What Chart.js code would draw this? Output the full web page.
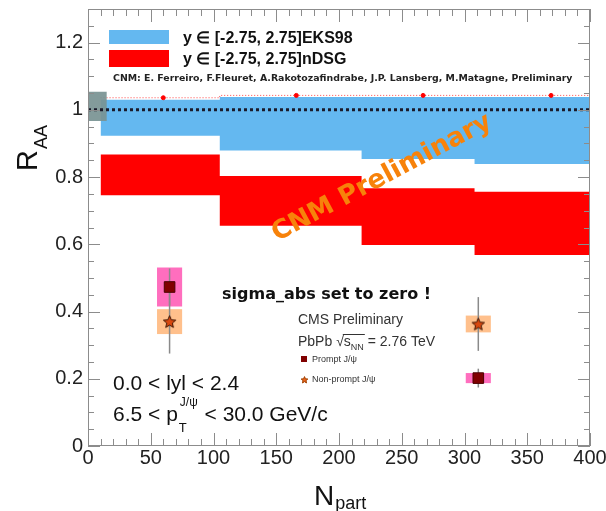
<!DOCTYPE html>
<html>
<head>
<meta charset="utf-8">
<script src="https://cdn.jsdelivr.net/npm/chart.js@4.4.1/dist/chart.umd.min.js"></script>
<style>
  html, body { margin: 0; padding: 0; background: #fff; }
</style>
</head>
<body>
<canvas id="chart" width="606" height="511"></canvas>
<script>
/* N_part bin edges of the CNM bands */
const binEdges = [10, 105, 218, 308, 400];

/* EKS98 band (upper / lower edge per bin) */
const eksHigh = [1.030, 1.038, 1.038, 1.038];
const eksLow  = [0.923, 0.879, 0.854, 0.839];

/* nDSG band */
const ndsgHigh = [0.867, 0.803, 0.767, 0.756];
const ndsgLow  = [0.746, 0.655, 0.598, 0.568];
const ndsgTop  = [1.036, 1.043, 1.043, 1.043];
const ndsgTopMarks = [60, 166, 267, 369];

/* CMS J/psi points */
const nPart = [65, 311];
const promptRaa  = [0.473, 0.202];
const promptStat = [0.055, 0.028];
const promptSyst = [0.058, 0.015];
const nonPromptRaa  = [0.370, 0.363];
const nonPromptStat = [0.095, 0.080];
const nonPromptSyst = [0.037, 0.025];
const systHalfWidth = 10;

/* global uncertainty box at unity */
const globalBoxX = [0, 15];
const globalBoxY = [0.967, 1.054];

/* axes */
const xTicks = [0, 50, 100, 150, 200, 250, 300, 350, 400];
const yTicks = [0, 0.2, 0.4, 0.6, 0.8, 1.0, 1.2];

const BLUE = "#64b8f0";
const RED = "#ff0000";
const PINK = "#ff6ebe";
const PEACH = "#ffc08c";
const FONT = '"Liberation Sans", Arial, sans-serif';

function steps(vals) {
  return binEdges.map((x, i) => ({ x, y: vals[Math.min(i, vals.length - 1)] }));
}

function starImage(size, fill, stroke) {
  const c = document.createElement("canvas");
  c.width = c.height = size;
  const g = c.getContext("2d");
  const r = size / 2 - 1, cx = size / 2, cy = size / 2 + 0.6;
  g.beginPath();
  for (let i = 0; i < 10; i++) {
    const a = -Math.PI / 2 + i * Math.PI / 5;
    const rr = i % 2 ? r * 0.45 : r;
    g.lineTo(cx + rr * Math.cos(a), cy + rr * Math.sin(a));
  }
  g.closePath();
  g.fillStyle = fill;
  g.fill();
  g.lineWidth = 1;
  g.strokeStyle = stroke;
  g.stroke();
  return c;
}

const bigStar = starImage(15, "#d9480f", "#3a1200");
const smallStar = starImage(9, "#e8641c", "#a04000");

/* systematic boxes + stat error bars, drawn under the markers */
const errorPlugin = {
  id: "errors",
  beforeDatasetDraw(chart, args) {
    if (args.index !== 1) return;
    const { ctx, scales: { x, y } } = chart;
    ctx.save();
    function box(n, v, s, color) {
      const x0 = x.getPixelForValue(n - systHalfWidth), x1 = x.getPixelForValue(n + systHalfWidth);
      const y0 = y.getPixelForValue(v + s), y1 = y.getPixelForValue(v - s);
      ctx.fillStyle = color;
      ctx.fillRect(x0, y0, x1 - x0, y1 - y0);
    }
    function bar(n, v, e) {
      const px = x.getPixelForValue(n);
      ctx.beginPath();
      ctx.moveTo(px, y.getPixelForValue(v + e));
      ctx.lineTo(px, y.getPixelForValue(v - e));
      ctx.strokeStyle = "#8a8a8a";
      ctx.lineWidth = 1.5;
      ctx.stroke();
    }
    nPart.forEach((n, i) => {
      box(n, promptRaa[i], promptSyst[i], PINK);
      box(n, nonPromptRaa[i], nonPromptSyst[i], PEACH);
    });
    nPart.forEach((n, i) => {
      bar(n, promptRaa[i], promptStat[i]);
      bar(n, nonPromptRaa[i], nonPromptStat[i]);
    });
    ctx.restore();
  }
};

function text(ctx, s, x, y, font, color, align) {
  ctx.font = font;
  ctx.fillStyle = color || "#111";
  ctx.textAlign = align || "left";
  ctx.textBaseline = "alphabetic";
  ctx.fillText(s, x, y);
  return ctx.measureText(s).width;
}

/* frame, inward ticks on all sides, and the annotations */
const decorPlugin = {
  id: "decor",
  afterDraw(chart) {
    const { ctx, chartArea: a, scales: { x, y } } = chart;
    ctx.save();

    ctx.strokeStyle = "#8c8c8c";
    ctx.lineWidth = 1;
    ctx.strokeRect(a.left + 0.5, a.top + 0.5, a.right - a.left - 1, a.bottom - a.top - 1);
    ctx.beginPath();
    for (let v = 0; v <= 400; v += 10) {
      const px = Math.round(x.getPixelForValue(v)) + 0.5;
      const len = xTicks.includes(v) ? 13 : 7;
      ctx.moveTo(px, a.bottom); ctx.lineTo(px, a.bottom - len);
      ctx.moveTo(px, a.top); ctx.lineTo(px, a.top + len);
    }
    for (let k = 0; k <= 26; k++) {
      const v = k * 0.05;
      const py = Math.round(y.getPixelForValue(v)) + 0.5;
      const len = k % 4 === 0 ? 12 : 6;
      ctx.moveTo(a.left, py); ctx.lineTo(a.left + len, py);
      ctx.moveTo(a.right, py); ctx.lineTo(a.right - len, py);
    }
    ctx.stroke();

    // axis titles
    ctx.save();
    ctx.translate(37, 171);
    ctx.rotate(-Math.PI / 2);
    const wR = text(ctx, "R", 0, 0, "29px " + FONT, "#111");
    text(ctx, "AA", wR + 1, 10, "18px " + FONT, "#111");
    ctx.restore();
    const wN = text(ctx, "N", 314, 505, "28px " + FONT, "#111");
    text(ctx, "part", 314 + wN + 1, 509, "18px " + FONT, "#111");

    // band legend
    ctx.fillStyle = BLUE;
    ctx.fillRect(109, 30, 60, 14);
    ctx.fillStyle = RED;
    ctx.fillRect(109, 50, 60, 17);
    text(ctx, "y \u2208 [-2.75, 2.75]EKS98", 183, 43, "bold 16px " + FONT, "#111");
    text(ctx, "y \u2208 [-2.75, 2.75]nDSG", 183, 64, "bold 16px " + FONT, "#111");

    const credit = "CNM: E. Ferreiro, F.Fleuret, A.Rakotozafindrabe, J.P. Lansberg, M.Matagne, Preliminary";
    ctx.font = "bold 9px \"DejaVu Sans\"";
    const cs = 9 * 460 / ctx.measureText(credit).width;
    text(ctx, credit, 113, 81, "bold " + cs.toFixed(2) + "px \"DejaVu Sans\"", "#222");

    // watermark
    ctx.save();
    ctx.translate(382, 178);
    ctx.rotate(-28 * Math.PI / 180);
    ctx.font = "bold 26px \"DejaVu Sans\"";
    ctx.fillStyle = "#f7820a";
    ctx.textAlign = "center";
    ctx.textBaseline = "middle";
    ctx.fillText("CNM Preliminary", 0, 0);
    ctx.restore();

    text(ctx, "sigma_abs set to zero !", 222, 299, "bold 16px \"DejaVu Sans\"", "#111");

    // CMS legend
    text(ctx, "CMS Preliminary", 298, 324, "14px " + FONT, "#333");
    let cx = 298;
    cx += text(ctx, "PbPb ", cx, 346, "14px " + FONT, "#333");
    const sq = text(ctx, "\u221a", cx, 346, "14px " + FONT, "#333");
    const sx = cx + sq;
    cx = sx + text(ctx, "s", sx, 346, "14px " + FONT, "#333");
    cx += text(ctx, "NN", cx, 350, "9px " + FONT, "#333");
    ctx.beginPath();
    ctx.moveTo(sx - 1, 334.5); ctx.lineTo(cx + 1, 334.5);
    ctx.strokeStyle = "#333"; ctx.lineWidth = 1; ctx.stroke();
    text(ctx, " = 2.76 TeV", cx, 346, "14px " + FONT, "#333");

    ctx.fillStyle = "#800000";
    ctx.fillRect(301, 356, 6, 6);
    text(ctx, "Prompt J/\u03c8", 312, 362, "9px " + FONT, "#333");
    ctx.drawImage(smallStar, 300, 375);
    text(ctx, "Non-prompt J/\u03c8", 312, 382, "9px " + FONT, "#333");

    // kinematic range
    text(ctx, "0.0 < lyl < 2.4", 113, 390, "21px " + FONT, "#111");
    let kx = 113;
    kx += text(ctx, "6.5 < p", kx, 421, "21px " + FONT, "#111");
    const wT = text(ctx, "T", kx + 1, 432, "13px " + FONT, "#111");
    const wJ = text(ctx, "J/\u03c8", kx + 2, 406, "12px " + FONT, "#111");
    kx += Math.max(wT, wJ) + 3;
    text(ctx, " < 30.0 GeV/c", kx, 421, "21px " + FONT, "#111");

    ctx.restore();
  }
};

const bandStyle = { stepped: true, pointRadius: 0, borderColor: "rgba(0,0,0,0)", borderWidth: 0 };

new Chart(document.getElementById("chart"), {
  type: "line",
  data: {
    datasets: [
      {
        label: "Prompt J/psi",
        data: nPart.map((n, i) => ({ x: n, y: promptRaa[i] })),
        showLine: false,
        pointStyle: "rect",
        pointRadius: 7.5,
        backgroundColor: "#800000",
        borderColor: "#4a0000",
        borderWidth: 1
      },
      {
        label: "Non-prompt J/psi",
        data: nPart.map((n, i) => ({ x: n, y: nonPromptRaa[i] })),
        showLine: false,
        pointStyle: bigStar
      },
      {
        label: "unity",
        data: [{ x: 0, y: 1 }, { x: 400, y: 1 }],
        borderColor: "#1a1a2a",
        borderWidth: 3,
        borderDash: [3, 3],
        pointRadius: 0
      },
      {
        label: "global high",
        data: globalBoxX.map(v => ({ x: v, y: globalBoxY[1] })),
        pointRadius: 0,
        borderColor: "rgba(0,0,0,0)",
        backgroundColor: "rgba(120,146,146,0.92)",
        fill: "+1"
      },
      {
        label: "global low",
        data: globalBoxX.map(v => ({ x: v, y: globalBoxY[0] })),
        pointRadius: 0,
        borderColor: "rgba(0,0,0,0)"
      },
      {
        label: "nDSG marks",
        data: ndsgTopMarks.map((n, i) => ({ x: n, y: ndsgTop[i] })),
        showLine: false,
        pointRadius: 2,
        backgroundColor: RED,
        borderColor: RED
      },
      {
        label: "nDSG top",
        data: steps(ndsgTop),
        stepped: true,
        pointRadius: 0,
        borderColor: "rgba(255,40,40,0.85)",
        borderWidth: 1,
        borderDash: [1, 2]
      },
      Object.assign({ label: "EKS98 high", data: steps(eksHigh), fill: "+1", backgroundColor: BLUE }, bandStyle),
      Object.assign({ label: "EKS98 low", data: steps(eksLow) }, bandStyle),
      Object.assign({ label: "nDSG high", data: steps(ndsgHigh), fill: "+1", backgroundColor: RED }, bandStyle),
      Object.assign({ label: "nDSG low", data: steps(ndsgLow) }, bandStyle)
    ]
  },
  options: {
    responsive: false,
    animation: false,
    devicePixelRatio: 1,
    layout: { padding: { top: 9, right: 16, left: 0, bottom: 0 } },
    plugins: { legend: { display: false }, tooltip: { enabled: false } },
    scales: {
      x: {
        type: "linear",
        min: 0,
        max: 400,
        grid: { display: false, drawTicks: false },
        border: { display: false },
        afterBuildTicks: s => { s.ticks = xTicks.map(v => ({ value: v })); },
        afterFit: s => { s.height = 65; s.paddingLeft = 0; s.paddingRight = 0; },
        ticks: {
          font: { family: FONT, size: 20 },
          color: "#222",
          padding: 0,
          maxRotation: 0,
          autoSkip: false,
          callback: v => String(v)
        }
      },
      y: {
        min: 0,
        max: 1.3,
        grid: { display: false, drawTicks: false },
        border: { display: false },
        afterBuildTicks: s => { s.ticks = yTicks.map(v => ({ value: v })); },
        afterFit: s => { s.width = 88; s.paddingTop = 0; s.paddingBottom = 0; },
        ticks: {
          font: { family: FONT, size: 20 },
          color: "#222",
          padding: 5,
          autoSkip: false,
          callback: v => String(Math.round(v * 10) / 10)
        }
      }
    }
  },
  plugins: [errorPlugin, decorPlugin]
});
</script>
</body>
</html>
